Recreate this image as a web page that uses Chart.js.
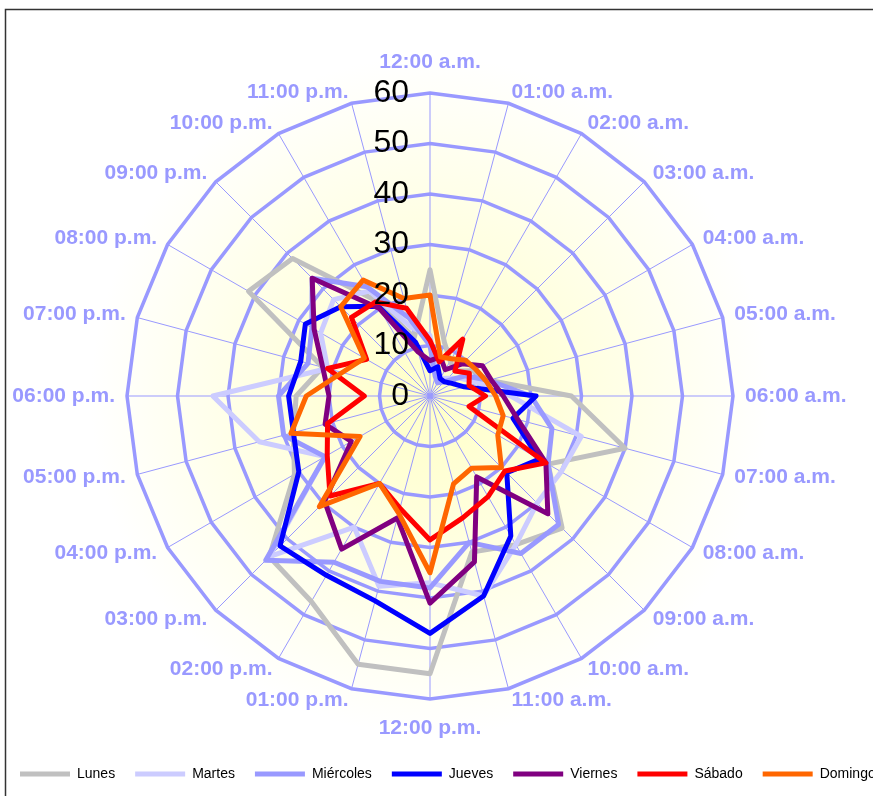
<!DOCTYPE html>
<html>
<head>
<meta charset="utf-8">
<script src="https://cdn.jsdelivr.net/npm/chart.js@4.4.1/dist/chart.umd.min.js"></script>
<style>
  html, body { margin: 0; padding: 0; background: #fff; overflow: hidden; }
  #marco { width: 873px; height: 796px; overflow: hidden; }
  #caja { width: 960px; height: 796px; }
</style>
</head>
<body>
<div id="marco"><div id="caja"><canvas id="radarHoras"></canvas></div></div>
<script>
// horas del día (empieza arriba y gira en sentido horario)
const horas = [
  "12:00 a.m.", "01:00 a.m.", "02:00 a.m.", "03:00 a.m.", "04:00 a.m.", "05:00 a.m.",
  "06:00 a.m.", "07:00 a.m.", "08:00 a.m.", "09:00 a.m.", "10:00 a.m.", "11:00 a.m.",
  "12:00 p.m.", "01:00 p.m.", "02:00 p.m.", "03:00 p.m.", "04:00 p.m.", "05:00 p.m.",
  "06:00 p.m.", "07:00 p.m.", "08:00 p.m.", "09:00 p.m.", "10:00 p.m.", "11:00 p.m."
];

const lunes     = [25, 11, 8, 7, 10, 12, 28, 40, 27, 37, 34, 32, 55, 55, 47, 45, 31, 28, 26.5, 22, 41.5, 38.5, 22, 12];
const martes    = [12, 5, 4, 5, 7, 10, 16, 31, 30, 30, 34, 41, 37, 39, 30, 45, 24, 35, 43, 21, 25, 27, 24, 14];
const miercoles = [10, 4, 3, 4, 8, 12, 20, 25, 27, 36, 36, 30, 38, 38, 38, 46, 24, 30, 30, 25, 27, 33, 25, 16];
const jueves    = [5, 6, 4, 4, 5, 7, 21, 17, 25, 21.5, 32, 41, 47, 42, 41, 42, 30, 28, 28, 26.5, 28.5, 25, 20.5, 11];
const viernes   = [7, 8, 6, 9, 12, 12.5, 14.5, 18, 26.5, 33, 18.5, 34, 41, 25, 35, 29.5, 18, 21.5, 20, 22, 26.5, 33, 20, 9];
const sabado    = [11, 7, 13, 7, 9, 8, 11, 8, 26.5, 21, 23, 25, 28.5, 23, 20, 28, 23.5, 21, 13, 21, 14.5, 22, 21.5, 18];
const domingo   = [20, 8, 8.5, 10, 10.5, 11.5, 13, 15, 15.5, 20, 16.5, 18, 35, 24, 20, 31, 16, 28.5, 24.5, 18, 15, 25, 26.5, 20];

const escala = [0, 10, 20, 30, 40, 50, 60];

const dias = [
  { label: "Lunes", data: lunes, color: "#c0c0c0" },
  { label: "Martes", data: martes, color: "#ccccff" },
  { label: "Miércoles", data: miercoles, color: "#9999ff" },
  { label: "Jueves", data: jueves, color: "#0000ff" },
  { label: "Viernes", data: viernes, color: "#800080" },
  { label: "Sábado", data: sabado, color: "#ff0000" },
  { label: "Domingo", data: domingo, color: "#ff6600" }
];

const LILA = "#9999ff";
const FUENTE = "'Liberation Sans', Arial, sans-serif";

// fondo amarillo, marco, etiquetas de horas y de la escala
const adornos = {
  id: "adornos",
  afterLayout(chart) {
    const r = chart.scales.r;
    r.xCenter = 430;
    r.yCenter = 396;
    r.drawingArea = 303;
  },
  beforeDraw(chart) {
    const ctx = chart.ctx, r = chart.scales.r;
    ctx.save();
    ctx.fillStyle = "#fff";
    ctx.fillRect(0, 0, chart.width, chart.height);
    const g = ctx.createRadialGradient(r.xCenter, r.yCenter, 0, r.xCenter, r.yCenter, r.drawingArea * 1.12);
    g.addColorStop(0, "rgb(255,255,200)");
    g.addColorStop(1, "rgb(255,255,255)");
    ctx.fillStyle = g;
    ctx.fillRect(0, 0, chart.width, chart.height);
    ctx.strokeStyle = "#333";
    ctx.lineWidth = 1.5;
    ctx.strokeRect(5.5, 9.5, chart.width, chart.height);
    ctx.restore();
  },
  afterDatasetsDraw(chart) {
    const ctx = chart.ctx, r = chart.scales.r;
    ctx.save();
    // horas
    ctx.fillStyle = LILA;
    ctx.font = "bold 21px " + FUENTE;
    ctx.textBaseline = "middle";
    horas.forEach((h, i) => {
      const p = r.getPointPosition(i, r.drawingArea + 12);
      const dx = p.x - r.xCenter;
      let y = p.y;
      if (Math.abs(dx) < 1) {
        ctx.textAlign = "center";
        y += p.y < r.yCenter ? -19 : 17;
      } else {
        ctx.textAlign = dx > 0 ? "left" : "right";
      }
      ctx.fillText(h, p.x, y);
    });
    // escala
    ctx.fillStyle = "#000";
    ctx.font = "32px " + FUENTE;
    ctx.textAlign = "right";
    escala.forEach((v) => {
      const d = r.getDistanceFromCenterForValue(v);
      ctx.fillText(String(v), r.xCenter - 21, r.yCenter - d);
    });
    ctx.restore();
  }
};

new Chart(document.getElementById("radarHoras"), {
  type: "radar",
  data: {
    labels: horas,
    datasets: dias.map((d, i) => ({
      label: d.label,
      data: d.data,
      borderColor: d.color,
      backgroundColor: d.color,
      borderWidth: 5,
      borderCapStyle: "round",
      borderJoinStyle: "round",
      fill: false,
      pointRadius: 0,
      pointHoverRadius: 0,
      tension: 0,
      order: dias.length - i
    }))
  },
  options: {
    responsive: true,
    maintainAspectRatio: false,
    animation: false,
    events: [],
    layout: { padding: { bottom: 5 } },
    scales: {
      r: {
        min: 0,
        max: 60,
        ticks: { stepSize: 10, display: false },
        grid: { color: LILA, lineWidth: 3.5 },
        angleLines: { color: LILA, lineWidth: 1 },
        pointLabels: { display: false }
      }
    },
    plugins: {
      tooltip: { enabled: false },
      legend: {
        position: "bottom",
        align: "start",
        labels: {
          usePointStyle: true,
          pointStyle: "line",
          pointStyleWidth: 50,
          boxHeight: 5,
          padding: 20,
          color: "#000",
          font: { family: FUENTE, size: 14 },
          sort: (a, b) => a.datasetIndex - b.datasetIndex
        }
      }
    }
  },
  plugins: [adornos]
});
</script>
</body>
</html>
